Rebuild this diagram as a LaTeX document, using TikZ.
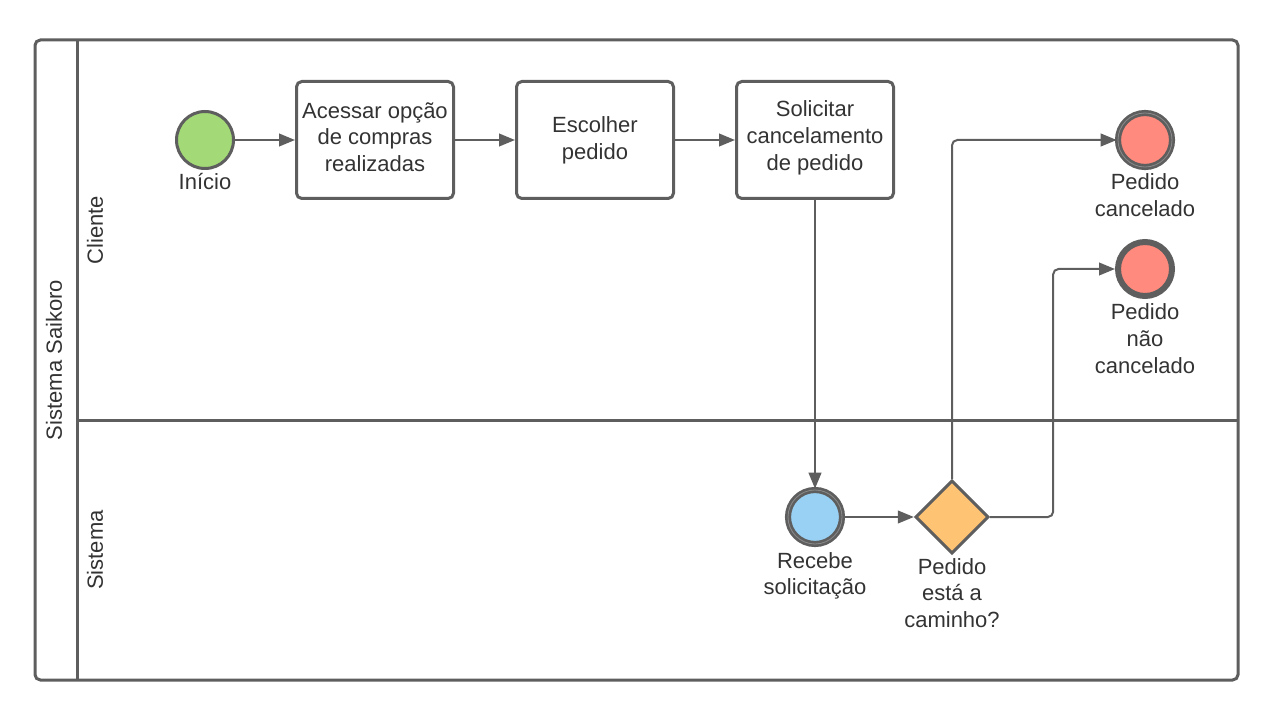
\documentclass[tikz,border=0pt]{standalone}
\usepackage{fontspec}
\setmainfont{Liberation Sans}
\usetikzlibrary{positioning,arrows.meta,shapes.geometric}
\definecolor{linegray}{HTML}{5E5E5E}
\definecolor{ringgray}{HTML}{8A8A8A}
\definecolor{txtgray}{HTML}{333333}
\definecolor{startgreen}{HTML}{A3D977}
\definecolor{endred}{HTML}{FF8A7D}
\definecolor{msgblue}{HTML}{99D1F5}
\definecolor{gateorange}{HTML}{FFC374}
\tikzset{
  txt/.style={font=\fontsize{16.5}{20}\selectfont, text=txtgray},
  flow/.style={draw=linegray, line width=1.5pt, -{Triangle[length=12pt,width=9.5pt]}},
  lane/.style={draw=linegray, line width=2.25pt},
  task/.style={txt, draw=linegray, line width=2.25pt, fill=white, rounded corners=4pt,
    minimum width=117.75pt, minimum height=87.75pt, align=center, inner sep=2pt},
  evlabel/.style={txt, align=center, inner sep=0pt, label distance=5pt},
  startev/.style={circle, draw=linegray, line width=2.25pt, fill=startgreen,
    minimum size=42.75pt, inner sep=0pt},
  catchev/.style={circle, draw=linegray, line width=2pt, double=ringgray,
    double distance=0.6pt, minimum size=40.5pt, inner sep=0pt},
  endev/.style={circle, draw=linegray, line width=4.5pt, fill=endred,
    minimum size=40.5pt, inner sep=0pt},
  gate/.style={diamond, draw=linegray, line width=2.25pt, fill=gateorange,
    minimum width=55pt, minimum height=55pt, inner sep=0pt},
}

\begin{document}
\begin{tikzpicture}[x=0.75pt, y=-0.75pt]
  \useasboundingbox (0,0) rectangle (1278,720);
  % pool and lanes
  \draw[lane, rounded corners=4pt] (35,40) rectangle (1238,680);
  \draw[lane] (77,40) -- (77,680);
  \draw[lane] (77,420) -- (1238,420);
  \node[txt, rotate=90] (pool) at (54,360) {Sistema Saikoro};
  \node[txt, rotate=90] (cliente) at (95,230) {Cliente};
  \node[txt, rotate=90] (sistema) at (95,550) {Sistema};
  % events, tasks and gateway
  \node[startev, label={[evlabel, label distance=2pt]below:Início}] (start) at (205,140) {};
  \node[task, text depth=4.5pt] (acessar) at (375,140) {Acessar opção\\de compras\\realizadas};
  \node[task] (escolher) at (595,140) {Escolher\\pedido};
  \node[task, text depth=6.5pt] (solicitar) at (815,140) {Solicitar\\cancelamento\\de pedido};
  \node[catchev, fill=msgblue, label={[evlabel]below:Recebe\\solicitação}] (recebe) at (815,517) {};
  \node[gate, label={[evlabel, label distance=2pt]below:Pedido\\está a\\caminho?}] (gateway) at (952,517) {};
  \node[catchev, fill=endred, label={[evlabel, label distance=4pt]below:Pedido\\cancelado}] (cancelado) at (1145,140) {};
  \node[endev, label={[evlabel, label distance=3.5pt]below:Pedido\\não\\cancelado}] (naocancelado) at (1145,269) {};
  % sequence flows
  \draw[flow] (start) -- (acessar);
  \draw[flow] (acessar) -- (escolher);
  \draw[flow] (escolher) -- (solicitar);
  \draw[flow] (solicitar) -- (recebe);
  \draw[flow] (recebe) -- (gateway);
  \draw[flow, rounded corners=4pt] (gateway.north) |- (cancelado);
  \draw[flow, rounded corners=4pt] (gateway.east) -- ++(63,0) |- (naocancelado);
\end{tikzpicture}
\end{document}
